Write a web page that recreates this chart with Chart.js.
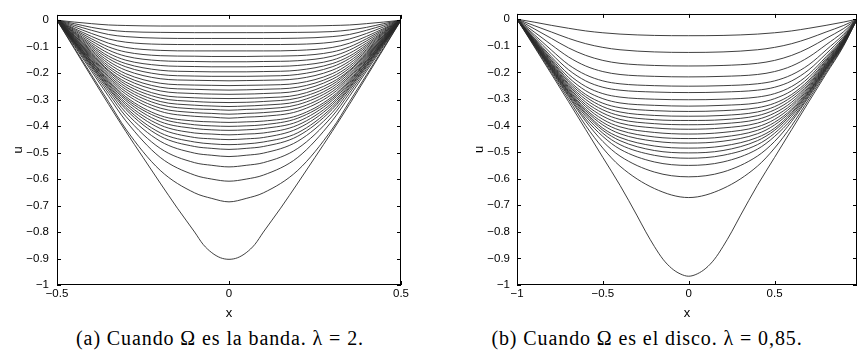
<!DOCTYPE html>
<html>
<head>
<meta charset="utf-8">
<script src="https://cdn.jsdelivr.net/npm/chart.js@4"></script>
<style>
  body { margin: 0; background: #fff; width: 858px; height: 360px; position: relative; overflow: hidden; }
  canvas { position: absolute; top: 0; }
  .cap { position: absolute; top: 327px; font-family: "Liberation Serif", serif; font-size: 20px;
         letter-spacing: 0.9px; white-space: nowrap; transform: translateX(-50%); color: #000; }
</style>
</head>
<body>
<canvas id="band" width="415" height="325" style="left:0"></canvas>
<canvas id="disk" width="428" height="325" style="left:430px"></canvas>
<div class="cap" style="left:220px">(a) Cuando Ω es la banda. λ = 2.</div>
<div class="cap" style="left:647px">(b) Cuando Ω es el disco. λ = 0,85.</div>
<script>
// (a) banda: x positions, and each curve from the left edge to the centre (curves are symmetric)
var bandX = [-0.5, -0.45, -0.4, -0.35, -0.3, -0.2, -0.1, -0.05, 0, 0.05, 0.1, 0.2, 0.3, 0.35, 0.4, 0.45, 0.5];
var bandCurves = [
  [0, -0.007, -0.013, -0.018, -0.020, -0.022, -0.022, -0.022, -0.022],
  [0, -0.013, -0.027, -0.037, -0.043, -0.046, -0.047, -0.047, -0.047],
  [0, -0.019, -0.038, -0.054, -0.062, -0.068, -0.069, -0.069, -0.069],
  [0, -0.025, -0.050, -0.071, -0.083, -0.091, -0.092, -0.092, -0.092],
  [0, -0.031, -0.061, -0.087, -0.103, -0.114, -0.116, -0.116, -0.116],
  [0, -0.035, -0.070, -0.101, -0.120, -0.134, -0.136, -0.137, -0.137],
  [0, -0.039, -0.078, -0.113, -0.136, -0.153, -0.156, -0.157, -0.157],
  [0, -0.043, -0.086, -0.125, -0.151, -0.171, -0.175, -0.176, -0.176],
  [0, -0.046, -0.093, -0.136, -0.164, -0.189, -0.194, -0.195, -0.195],
  [0, -0.049, -0.099, -0.145, -0.176, -0.205, -0.211, -0.212, -0.212],
  [0, -0.052, -0.105, -0.155, -0.189, -0.221, -0.227, -0.228, -0.229],
  [0, -0.056, -0.111, -0.164, -0.202, -0.238, -0.245, -0.246, -0.247],
  [0, -0.058, -0.116, -0.173, -0.213, -0.253, -0.261, -0.263, -0.264],
  [0, -0.060, -0.121, -0.181, -0.223, -0.267, -0.277, -0.279, -0.280],
  [0, -0.063, -0.126, -0.189, -0.234, -0.282, -0.293, -0.295, -0.296],
  [0, -0.065, -0.130, -0.193, -0.243, -0.294, -0.307, -0.310, -0.311],
  [0, -0.067, -0.134, -0.200, -0.252, -0.307, -0.321, -0.324, -0.326],
  [0, -0.069, -0.138, -0.207, -0.261, -0.319, -0.335, -0.337, -0.340],
  [0, -0.071, -0.142, -0.213, -0.270, -0.332, -0.349, -0.352, -0.355],
  [0, -0.073, -0.146, -0.219, -0.279, -0.344, -0.363, -0.366, -0.370],
  [0, -0.075, -0.151, -0.226, -0.289, -0.360, -0.381, -0.384, -0.386],
  [0, -0.077, -0.154, -0.231, -0.296, -0.370, -0.395, -0.399, -0.401],
  [0, -0.079, -0.157, -0.236, -0.303, -0.383, -0.409, -0.414, -0.416],
  [0, -0.081, -0.162, -0.242, -0.312, -0.396, -0.426, -0.430, -0.433],
  [0, -0.082, -0.164, -0.247, -0.320, -0.409, -0.443, -0.448, -0.451],
  [0, -0.084, -0.169, -0.253, -0.329, -0.425, -0.460, -0.467, -0.470],
  [0, -0.086, -0.172, -0.258, -0.337, -0.438, -0.477, -0.484, -0.488],
  [0, -0.089, -0.177, -0.266, -0.349, -0.457, -0.502, -0.510, -0.515],
  [0, -0.092, -0.184, -0.276, -0.363, -0.484, -0.538, -0.548, -0.554],
  [0, -0.096, -0.192, -0.288, -0.380, -0.518, -0.585, -0.600, -0.608],
  [0, -0.103, -0.206, -0.308, -0.411, -0.567, -0.652, -0.673, -0.686]
];
// deepest band curve, read on a finer grid
var bandDeepX = [-0.5, -0.45, -0.4, -0.35, -0.3, -0.25, -0.2, -0.15, -0.1, -0.075, -0.05, -0.025, 0,
                 0.025, 0.05, 0.075, 0.1, 0.15, 0.2, 0.25, 0.3, 0.35, 0.4, 0.45, 0.5];
var bandDeep = [0, -0.107, -0.213, -0.318, -0.42, -0.518, -0.615, -0.71, -0.80, -0.847, -0.878, -0.897, -0.903];
var bandXTicks = [-0.5, 0, 0.5];

// (b) disco
var diskX = [-1, -0.9, -0.8, -0.7, -0.6, -0.5, -0.4, -0.2, 0, 0.2, 0.4, 0.5, 0.6, 0.7, 0.8, 0.9, 0.98];
var diskCurves = [
  [0, -0.011, -0.023, -0.034, -0.044, -0.051, -0.056, -0.061, -0.062],
  [0, -0.024, -0.048, -0.072, -0.092, -0.106, -0.115, -0.123, -0.125],
  [0, -0.036, -0.072, -0.108, -0.136, -0.155, -0.166, -0.174, -0.176],
  [0, -0.048, -0.096, -0.142, -0.176, -0.197, -0.208, -0.215, -0.217],
  [0, -0.058, -0.116, -0.171, -0.209, -0.232, -0.243, -0.250, -0.252],
  [0, -0.065, -0.130, -0.190, -0.232, -0.256, -0.267, -0.274, -0.276],
  [0, -0.071, -0.141, -0.207, -0.253, -0.280, -0.293, -0.301, -0.303],
  [0, -0.074, -0.148, -0.219, -0.269, -0.299, -0.315, -0.324, -0.327],
  [0, -0.077, -0.154, -0.229, -0.283, -0.316, -0.333, -0.344, -0.347],
  [0, -0.079, -0.158, -0.236, -0.292, -0.329, -0.349, -0.362, -0.365],
  [0, -0.081, -0.163, -0.243, -0.302, -0.341, -0.363, -0.378, -0.381],
  [0, -0.083, -0.167, -0.248, -0.312, -0.353, -0.377, -0.393, -0.397],
  [0, -0.085, -0.170, -0.254, -0.321, -0.365, -0.391, -0.409, -0.414],
  [0, -0.086, -0.173, -0.259, -0.329, -0.377, -0.405, -0.426, -0.432],
  [0, -0.088, -0.176, -0.264, -0.338, -0.388, -0.418, -0.443, -0.449],
  [0, -0.090, -0.179, -0.269, -0.344, -0.398, -0.431, -0.459, -0.466],
  [0, -0.091, -0.182, -0.273, -0.351, -0.410, -0.445, -0.477, -0.485],
  [0, -0.092, -0.184, -0.276, -0.357, -0.418, -0.457, -0.494, -0.503],
  [0, -0.094, -0.187, -0.281, -0.365, -0.429, -0.472, -0.512, -0.523],
  [0, -0.095, -0.190, -0.286, -0.375, -0.441, -0.489, -0.537, -0.550],
  [0, -0.097, -0.194, -0.291, -0.384, -0.460, -0.515, -0.575, -0.593],
  [0, -0.100, -0.200, -0.300, -0.400, -0.485, -0.553, -0.637, -0.671]
];
// deepest disk curve, read on a finer grid
var diskDeepX = [-1, -0.9, -0.8, -0.7, -0.6, -0.5, -0.4, -0.3, -0.25, -0.2, -0.15, -0.1, -0.05, 0,
                 0.05, 0.1, 0.15, 0.2, 0.25, 0.3, 0.4, 0.5, 0.6, 0.7, 0.8, 0.9, 0.98];
var diskDeep = [0, -0.103, -0.206, -0.31, -0.415, -0.52, -0.625, -0.74, -0.80, -0.855, -0.903, -0.937, -0.958, -0.967];
var diskXTicks = [-1, -0.5, 0, 0.5];

var yTicks = [0, -0.1, -0.2, -0.3, -0.4, -0.5, -0.6, -0.7, -0.8, -0.9, -1];

function mirror(half) {
  return half.concat(half.slice(0, -1).reverse());
}
function points(xs, half) {
  var ys = mirror(half);
  return xs.map(function (x, i) { return { x: x, y: ys[i] }; });
}
function label(v) {
  return v === 0 ? '0' : String(v).replace('-', '\u2212');
}

var tickFont = { family: 'Liberation Sans', size: 11.5 };

// box round the axes, with short inward ticks on all four sides
var frame = {
  id: 'frame',
  afterDatasetsDraw: function (chart) {
    var a = chart.chartArea, ctx = chart.ctx;
    var sx = chart.scales.x, sy = chart.scales.y;
    ctx.save();
    ctx.strokeStyle = '#000';
    ctx.lineWidth = 1;
    ctx.strokeRect(Math.round(a.left) + 0.5, Math.round(a.top) + 0.5,
                   Math.round(a.right) - Math.round(a.left) - 1, Math.round(a.bottom) - Math.round(a.top) - 1);
    ctx.beginPath();
    sx.ticks.forEach(function (t) {
      var p = Math.round(sx.getPixelForValue(t.value)) + 0.5;
      ctx.moveTo(p, a.bottom); ctx.lineTo(p, a.bottom - 4);
      ctx.moveTo(p, a.top); ctx.lineTo(p, a.top + 4);
    });
    sy.ticks.forEach(function (t) {
      var p = Math.round(sy.getPixelForValue(t.value)) + 0.5;
      ctx.moveTo(a.left, p); ctx.lineTo(a.left + 4, p);
      ctx.moveTo(a.right, p); ctx.lineTo(a.right - 4, p);
    });
    ctx.stroke();
    ctx.restore();
  }
};

function plot(id, xs, curves, deepX, deep, xMin, xMax, xTicks, yWidth, rightPad, uOffset, labelPad) {
  var sets = curves.map(function (c) {
    return { data: points(xs, c) };
  });
  sets.push({ data: points(deepX, deep) });
  sets.forEach(function (s) {
    s.borderColor = '#2a2a2a';
    s.borderWidth = 0.9;
    s.pointRadius = 0;
    s.fill = false;
    s.cubicInterpolationMode = 'monotone';
  });
  return new Chart(id, {
    type: 'line',
    data: { datasets: sets },
    options: {
      responsive: false,
      animation: false,
      layout: { padding: { top: 9, right: rightPad, left: 0, bottom: 0 } },
      plugins: { legend: { display: false }, tooltip: { enabled: false } },
      scales: {
        x: {
          type: 'linear', min: xMin, max: xMax,
          grid: { display: false, drawTicks: false },
          border: { display: false },
          afterBuildTicks: function (s) { s.ticks = xTicks.map(function (v) { return { value: v }; }); },
          afterFit: function (s) { s.height = 40; },
          ticks: { font: tickFont, color: '#000', padding: 2, maxRotation: 0, autoSkip: false, callback: label },
          title: { display: true, text: 'x', color: '#000', font: { family: 'Liberation Sans', size: 13 },
                   padding: { top: 0, bottom: 4 } }
        },
        y: {
          type: 'linear', min: -1, max: 0.02,
          grid: { display: false, drawTicks: false },
          border: { display: false },
          afterBuildTicks: function (s) { s.ticks = yTicks.map(function (v) { return { value: v }; }); },
          afterFit: function (s) { s.width = yWidth; },
          ticks: { font: tickFont, color: '#000', padding: labelPad, autoSkip: false, callback: label },
          title: { display: true, text: 'u', color: '#000', font: { family: 'Liberation Sans', size: 13 },
                   padding: { top: uOffset, bottom: 0 } }
        }
      }
    },
    plugins: [frame]
  });
}

plot('band', bandX, bandCurves, bandDeepX, bandDeep, -0.5, 0.5, bandXTicks, 57, 14, 10.5, 8);
plot('disk', diskX, diskCurves, diskDeepX, diskDeep, -1, 0.98, diskXTicks, 87, 1, 42, 7);
</script>
</body>
</html>
